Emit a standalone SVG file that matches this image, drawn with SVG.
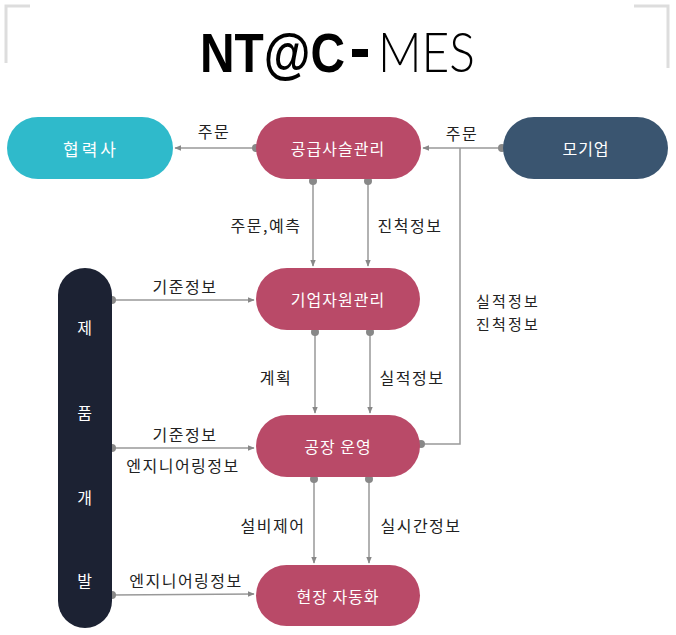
<svg xmlns="http://www.w3.org/2000/svg" width="676" height="635" viewBox="0 0 676 635">
<style>
.node-t{font-family:"Noto Sans CJK KR","Noto Sans",sans-serif;font-size:16px;letter-spacing:1px;fill:#ffffff;text-anchor:middle;dominant-baseline:central}
.wide{font-size:17px;letter-spacing:3px}
.lbl{font-family:"Noto Sans CJK KR","Noto Sans",sans-serif;font-size:16px;letter-spacing:1.5px;fill:#222;text-anchor:middle;dominant-baseline:central}
.sm{font-size:15px;letter-spacing:2.2px}
.ln{fill:none;stroke:#999;stroke-width:1.5}
.dot{fill:#888}
.pink{fill:#b94a68}
.br{fill:none;stroke:#dddddd;stroke-width:3}
</style>
<defs>
<marker id="ah" viewBox="0 0 10 10" refX="9" refY="5" markerWidth="7" markerHeight="7" orient="auto" markerUnits="userSpaceOnUse">
<path d="M0,1 L10,5 L0,9 z" fill="#888"/>
</marker>
</defs>
<rect width="676" height="635" fill="#ffffff"/>
<path class="br" d="M6,63 V6 H30"/>
<path class="br" d="M634,6 H668 V68"/>
<text x="200" y="72" textLength="145" lengthAdjust="spacingAndGlyphs" font-family="Liberation Sans,Arial,sans-serif" font-size="56" font-weight="bold" fill="#000">NT@C</text>
<rect x="352" y="49" width="16" height="8" fill="#000"/>
<text x="378" y="72" textLength="97" lengthAdjust="spacingAndGlyphs" font-family="Lato,'Open Sans',sans-serif" font-weight="300" font-size="55" fill="#000">MES</text>

<g id="connectors">
<path class="ln" d="M256,148 H175" marker-end="url(#ah)"/><circle class="dot" cx="256" cy="148" r="4"/>
<path class="ln" d="M502,148 H423" marker-end="url(#ah)"/><circle class="dot" cx="502" cy="148" r="4"/>
<path class="ln" d="M421,444 H460 V148"/><circle class="dot" cx="421" cy="444" r="4"/>
<path class="ln" d="M313,181 V266" marker-end="url(#ah)"/><circle class="dot" cx="313" cy="181" r="4"/>
<path class="ln" d="M368,181 V266" marker-end="url(#ah)"/><circle class="dot" cx="368" cy="181" r="4"/>
<path class="ln" d="M315,332 V413" marker-end="url(#ah)"/><circle class="dot" cx="315" cy="332" r="4"/>
<path class="ln" d="M370,332 V413" marker-end="url(#ah)"/><circle class="dot" cx="370" cy="332" r="4"/>
<path class="ln" d="M314,479 V563" marker-end="url(#ah)"/><circle class="dot" cx="314" cy="479" r="4"/>
<path class="ln" d="M369,479 V563" marker-end="url(#ah)"/><circle class="dot" cx="369" cy="479" r="4"/>
<path class="ln" d="M112,300 H254" marker-end="url(#ah)"/><circle class="dot" cx="112" cy="300" r="4"/>
<path class="ln" d="M112,448 H254" marker-end="url(#ah)"/><circle class="dot" cx="112" cy="448" r="4"/>
<path class="ln" d="M112,595 L254,594" marker-end="url(#ah)"/><circle class="dot" cx="112" cy="595" r="4"/>
<text class="lbl" x="214" y="131">주문</text>
<text class="lbl" x="462" y="133">주문</text>
<text class="lbl sm" x="508" y="300">실적정보</text>
<text class="lbl sm" x="508" y="323">진척정보</text>
<text class="lbl" x="266" y="225">주문,예측</text>
<text class="lbl" x="410" y="225">진척정보</text>
<text class="lbl" x="276" y="377">계획</text>
<text class="lbl" x="412" y="377">실적정보</text>
<text class="lbl" x="273" y="525">설비제어</text>
<text class="lbl" x="421" y="525">실시간정보</text>
<text class="lbl" x="185" y="286">기준정보</text>
<text class="lbl" x="185" y="434">기준정보</text>
<text class="lbl" x="183" y="465">엔지니어링정보</text>
<text class="lbl" x="186" y="580">엔지니어링정보</text>
</g>

<g id="partner"><rect x="7" y="117" width="166" height="62" rx="31" fill="#2fbacb"/><text class="node-t wide" x="91" y="148">협력사</text></g>
<g id="scm"><rect class="pink" x="256" y="117" width="165" height="62" rx="31"/><text class="node-t" x="338" y="148">공급사슬관리</text></g>
<g id="parent"><rect x="503" y="117" width="165" height="62" rx="31" fill="#3a5570"/><text class="node-t" x="586" y="148">모기업</text></g>
<g id="erp"><rect class="pink" x="256" y="268" width="164" height="62" rx="31"/><text class="node-t" x="338" y="299">기업자원관리</text></g>
<g id="mes"><rect class="pink" x="256" y="415" width="164" height="62" rx="31"/><text class="node-t" x="338" y="446">공장 운영</text></g>
<g id="fa"><rect class="pink" x="256" y="565" width="164" height="61" rx="30.5"/><text class="node-t" x="338" y="596">현장 자동화</text></g>
<g id="pd"><rect x="58" y="268" width="54" height="360" rx="27" fill="#1c2233"/>
<text class="node-t" x="85" y="327">제</text>
<text class="node-t" x="85" y="412">품</text>
<text class="node-t" x="85" y="497">개</text>
<text class="node-t" x="85" y="580">발</text></g>
</svg>
